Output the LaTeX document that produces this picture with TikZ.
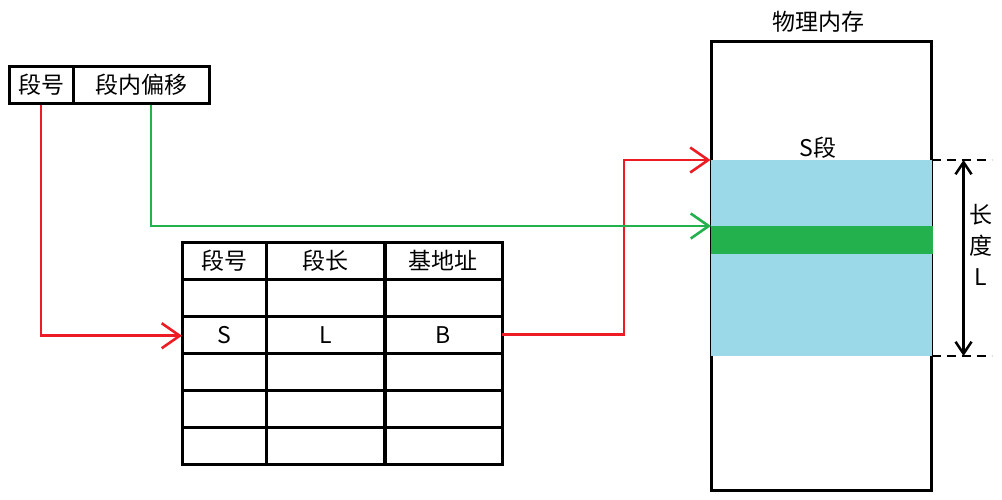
\documentclass[tikz,border=0pt]{standalone}
\usepackage{fontspec}
\setmainfont{Noto Sans CJK SC}
\usetikzlibrary{arrows.meta,positioning,matrix}
\definecolor{segred}{RGB}{237,28,36}
\definecolor{offgreen}{RGB}{34,177,76}
\definecolor{segblue}{RGB}{155,217,232}

\begin{document}
\begin{tikzpicture}[x=1pt, y=-1pt,
    font=\fontsize{23}{31}\selectfont,
    field/.style={draw, line width=3pt, minimum height=37pt, inner sep=0pt},
    cell/.style={draw, line width=3pt, minimum height=37pt, inner sep=0pt},
    redarr/.style={segred, line width=2.6pt, -{Straight Barb[length=18pt, width=25pt]}},
    greenarr/.style={offgreen, line width=2.6pt, -{Straight Barb[length=18pt, width=25pt]}}
]
\useasboundingbox (0,0) rectangle (1002,499);

% logical address
\node[field, minimum width=64pt] (segno) at (41,84.5) {段号};
\node[field, minimum width=136pt] (offset) at (141,84.5) {段内偏移};

% segment table
\matrix (tbl) [matrix of nodes, nodes in empty cells, anchor=north west,
    inner sep=0pt, outer sep=0pt, column sep=-3pt, row sep=-3pt, nodes={cell},
    column 1/.style={nodes={minimum width=84pt}},
    column 2/.style={nodes={minimum width=119pt}},
    column 3/.style={nodes={minimum width=117pt}}] at (180.5,240.5) {
段号 & 段长 & 基地址 \\
 & & \\
S & L & B \\
 & & \\
 & & \\
 & & \\
};

% physical memory
\node (memlbl) at (818,22) {物理内存};
\node[draw, line width=3pt, minimum width=220pt, minimum height=449pt, inner sep=0pt] (mem) at (821,265.5) {};
\node[fill=segblue, minimum width=221pt, minimum height=196pt, inner sep=0pt, outer sep=0pt] (seg) at (821,258) {};
\node[fill=offgreen, minimum width=222pt, minimum height=28pt, inner sep=0pt, outer sep=0pt] (unit) at (822,240) {};
\node (seglbl) at (818,148) {S段};

% segment length
\draw[line width=2.5pt, dash pattern=on 9pt off 6pt] (seg.north east) -- ++(60,0);
\draw[line width=2.5pt, dash pattern=on 9pt off 6pt] (seg.south east) -- ++(60,0);
\draw[line width=2.5pt, {Straight Barb[length=12pt, width=16pt]}-{Straight Barb[length=12pt, width=16pt]}]
    ([xshift=32pt]seg.north east) -- ([xshift=32pt]seg.south east);
\node[align=center] (lenlbl) at (981,245) {长\\度\\L};

\draw[redarr] (segno.south) |- ([yshift=-1pt]tbl-3-1.west);
\draw[redarr] (tbl-3-3.east) -- ++(122,0) |- (seg.north west);
\draw[greenarr] ([xshift=10pt]offset.south) |- (unit.north west);
\end{tikzpicture}
\end{document}
